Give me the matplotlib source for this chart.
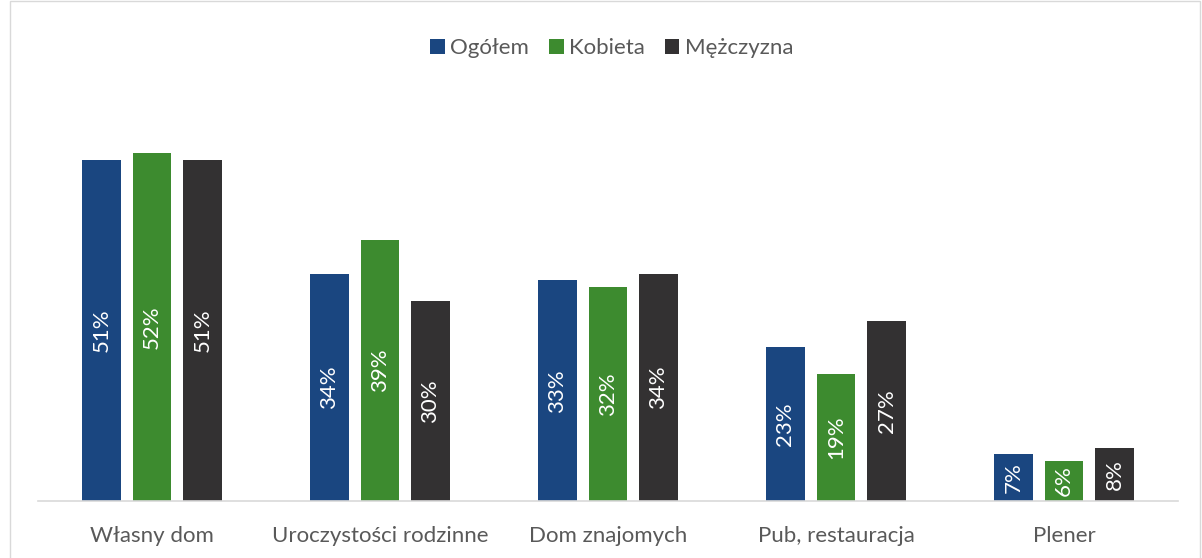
import matplotlib.pyplot as plt
import numpy as np
from matplotlib.patches import Rectangle

plt.rcParams['font.family'] = ['Lato', 'DejaVu Sans']

categories = ['Własny dom', 'Uroczystości rodzinne', 'Dom znajomych',
              'Pub, restauracja', 'Plener']
series_names = ['Ogółem', 'Kobieta', 'Mężczyzna']
ogolem = [51, 34, 33, 23, 7]
kobieta = [52, 39, 32, 19, 6]
mezczyzna = [51, 30, 34, 27, 8]
colors = ['#1a4680', '#3d8b2f', '#333132']
TEXT = '#595959'

fig = plt.figure(figsize=(12.02, 5.58), dpi=100)
ax = fig.add_axes([38 / 1202, 57 / 558, 1140 / 1202, 401 / 558])

pos = np.arange(len(categories))
width = 0.171
offset = 0.2215
for i, (name, values, color) in enumerate(
        zip(series_names, [ogolem, kobieta, mezczyzna], colors)):
    x = pos + (i - 1) * offset
    bars = ax.bar(x, values, width, color=color, label=name)
    for xi, v in zip(x, values):
        ax.text(xi, v / 2, '{}%'.format(v), rotation=90, color='white',
                ha='center', va='center', fontsize=16)

ax.set_xlim(-0.5, 4.5)
ax.set_ylim(0, 60)
ax.set_yticks([])
ax.set_xticks(pos, categories)
ax.tick_params(axis='x', length=0, pad=18, labelsize=16, labelcolor=TEXT)
for side in ['top', 'left', 'right']:
    ax.spines[side].set_visible(False)
ax.spines['bottom'].set_color('#d9d9d9')
ax.spines['bottom'].set_linewidth(1.2)

fig.legend(loc='center', bbox_to_anchor=(0.509, 1 - 48 / 558), ncol=3,
           frameon=False, fontsize=16, labelcolor=TEXT, handlelength=0.65,
           handleheight=0.65, handletextpad=0.25, columnspacing=0.9)

# chart border
fig.patches.append(Rectangle((9.5 / 1202, -0.01), 1190 / 1202, 1.009,
                             transform=fig.transFigure, fill=False,
                             edgecolor='#d9d9d9', linewidth=1))

fig.savefig('out.png', dpi=100)
